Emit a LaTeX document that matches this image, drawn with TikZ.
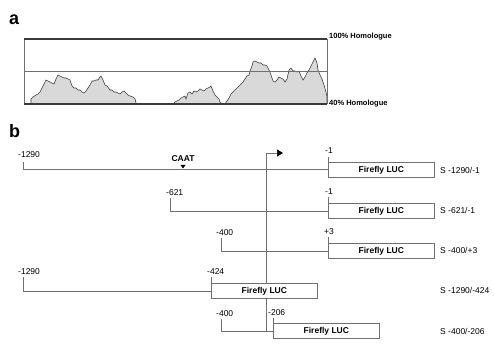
\documentclass[tikz,border=0pt]{standalone}
\usepackage{fontspec}
\setmainfont{Liberation Sans}
\usetikzlibrary{arrows.meta}
\definecolor{lngray}{HTML}{707070}
\definecolor{dkgray}{HTML}{3A3A3A}
\definecolor{fillgray}{HTML}{D9D9D9}

\begin{document}
\begin{tikzpicture}[
  x=1pt, y=-1pt,
  >={Triangle[length=6pt, width=7pt, black]},
  every node/.style={text=black, inner sep=0pt, font=\fontsize{8.5}{10}\selectfont},
  panel/.style={anchor=base west, font=\fontsize{18}{20}\selectfont\bfseries},
  homlabel/.style={anchor=west, font=\fontsize{7.5}{9}\selectfont\bfseries},
  poslabel/.style={anchor=base west},
  construct/.style={anchor=west},
  lucbox/.style={draw=lngray, line width=0.7pt, fill=white, anchor=north west,
    minimum width=106pt, minimum height=15pt, font=\fontsize{8.5}{10}\selectfont\bfseries},
  dnaline/.style={lngray, line width=0.7pt},
]
\useasboundingbox (0,0) rectangle (494,347);

% --- Panel a: homology profile ---
\node[panel] (pa) at (9,25) {a};

\fill[fillgray, draw=dkgray, line width=0.6pt] plot coordinates {
  (31,104) (31,99) (33,97) (36,95) (38,94) (40,92) (42,88) (44,84) (46,80)
  (48,81) (50,82) (52,83) (54,84) (56,79) (58,75) (60,76) (62,77) (64,78)
  (66,78) (68,79) (70,80) (72,86) (74,88) (76,88) (78,90) (80,90) (82,92)
  (84,93) (86,91) (88,88) (90,85) (92,81) (94,81) (96,80) (98,80) (100,77)
  (101,76) (103,80) (105,85) (107,86) (110,90) (112,90) (114,92) (116,92)
  (118,93) (120,94) (122,92) (124,91) (126,93) (128,95) (130,96) (133,97)
  (135,99) (136,103) (137,104) (173,104) (175,102) (177,101) (179,100)
  (181,98) (183,97) (185,96) (186,99) (188,93) (190,92) (192,94) (194,91)
  (196,92) (198,91) (200,89) (202,90) (204,91) (206,89) (208,88) (210,87)
  (211,86) (213,91) (215,95) (217,97) (219,99) (220,102) (222,104) (225,104)
  (227,101) (229,98) (231,94) (234,91) (236,89) (238,87) (240,85) (243,82)
  (245,79) (247,76) (249,75) (250,71) (252,66) (253,62) (255,61) (257,62)
  (259,63) (261,63) (263,65) (265,65) (267,66) (269,70) (271,75) (273,81)
  (275,82) (277,80) (279,77) (281,78) (283,79) (285,82) (287,79) (289,70)
  (291,68) (293,71) (295,71) (297,72) (299,71) (301,76) (303,80) (305,77)
  (307,73) (309,70) (311,66) (313,62) (315,58) (317,63) (318,70) (320,75)
  (322,79) (324,85) (326,92) (327,97) (327,104)};

% frame
\draw[lngray, line width=0.7pt] (24,39) -- (24,104);
\draw[lngray, line width=0.7pt] (327,39) -- (327,104);
\draw[lngray, line width=0.8pt] (24,71) -- (327,71);
\draw[dkgray, line width=1.3pt] (24,39) -- (327,39);
\draw[dkgray, line width=1.1pt] (24,104) -- (327,104);
\node[homlabel] (h100) at (329,37) {100\% Homologue};
\node[homlabel] (h40) at (329,104) {40\% Homologue};

% --- Panel b: reporter constructs ---
\node[panel] (pb) at (9,138) {b};

% transcription start
\coordinate (tss) at (266,331);
\coordinate (tsstop) at (266,153);
\coordinate (tsshead) at (283,153);
\draw[dnaline] (tss) -- (tsstop);
\draw[dnaline, ->] (tsstop) -- (tsshead);

% CAAT box
\node[font=\fontsize{8.5}{10}\selectfont\bfseries, anchor=base] (caat) at (183,162) {CAAT};
\fill (180.5,165) -- (185.5,165) -- (183,168.5) -- cycle;

% S -1290/-1
\node[lucbox] (luc1) at (328,162) {Firefly LUC};
\coordinate (s1) at (23,162);
\coordinate (e1) at (328,157);
\draw[dnaline] (s1) |- (luc1.west);
\draw[dnaline] (e1) -- (luc1.north west);
\node[poslabel] (ls1) at (18,158) {-1290};
\node[poslabel] (le1) at (325,154) {-1};
\node[construct] (c1) at (440,170) {S -1290/-1};

% S -621/-1
\node[lucbox] (luc2) at (328,203) {Firefly LUC};
\coordinate (s2) at (170,198);
\coordinate (e2) at (328,197);
\draw[dnaline] (s2) |- (luc2.west);
\draw[dnaline] (e2) -- (luc2.north west);
\node[poslabel] (ls2) at (166,195) {-621};
\node[poslabel] (le2) at (325,194) {-1};
\node[construct] (c2) at (440,210) {S -621/-1};

% S -400/+3
\node[lucbox] (luc3) at (328,243) {Firefly LUC};
\coordinate (s3) at (221,238);
\coordinate (e3) at (328,237);
\draw[dnaline] (s3) |- (luc3.west);
\draw[dnaline] (e3) -- (luc3.north west);
\node[poslabel] (ls3) at (216,235) {-400};
\node[poslabel] (le3) at (324,234) {+3};
\node[construct] (c3) at (440,250) {S -400/+3};

% S -1290/-424
\node[lucbox] (luc4) at (211,283) {Firefly LUC};
\coordinate (s4) at (23,277);
\coordinate (e4) at (211,277);
\draw[dnaline] (s4) |- (luc4.west);
\draw[dnaline] (e4) -- (luc4.north west);
\node[poslabel] (ls4) at (18,274) {-1290};
\node[poslabel] (le4) at (207,274) {-424};
\node[construct] (c4) at (440,290) {S -1290/-424};

% S -400/-206
\node[lucbox] (luc5) at (273,323) {Firefly LUC};
\coordinate (s5) at (221,319);
\coordinate (e5) at (273,318);
\draw[dnaline] (s5) |- (luc5.west);
\draw[dnaline] (e5) -- (luc5.north west);
\node[poslabel] (ls5) at (216,316) {-400};
\node[poslabel] (le5) at (268,315) {-206};
\node[construct] (c5) at (440,331) {S -400/-206};

\end{tikzpicture}
\end{document}
